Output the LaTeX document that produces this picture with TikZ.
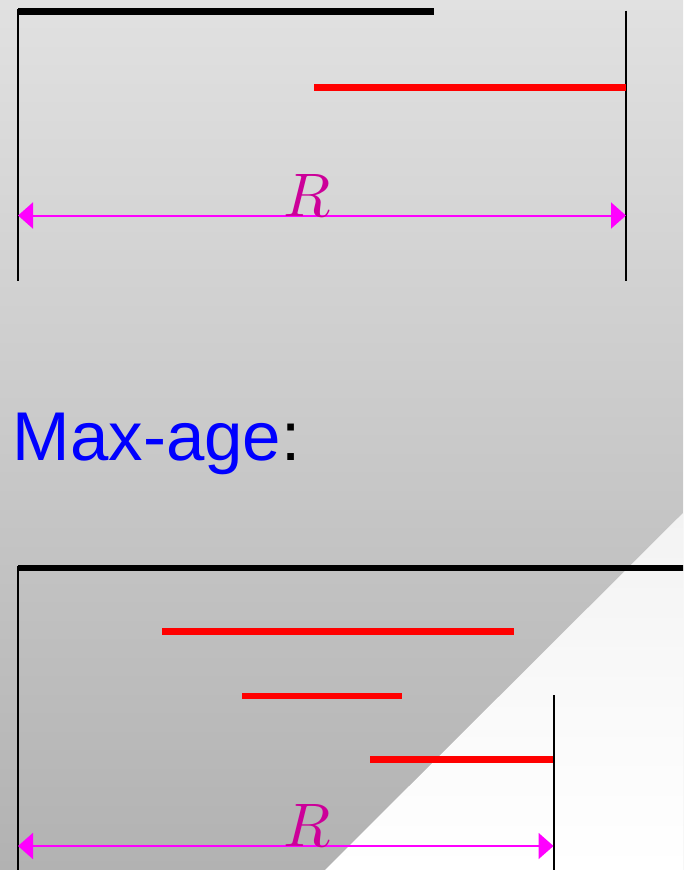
\documentclass[tikz,border=0pt]{standalone}
\usepackage{fontspec}
\newfontfamily\arialfont{Liberation Sans}
\usetikzlibrary{arrows.meta}
\definecolor{rlabel}{RGB}{204,0,153}
\definecolor{arrowmag}{RGB}{255,0,255}
\definecolor{bgtop}{RGB}{225,225,225}
\definecolor{bgbot}{RGB}{178,178,178}
\definecolor{tritop}{RGB}{243,243,243}
\definecolor{pureblue}{RGB}{0,0,255}
\definecolor{purered}{RGB}{255,0,0}
\tikzset{
  thickblack/.style={line width=6.5pt, black},
  thinblack/.style={line width=2pt, black},
  redbar/.style={line width=6.5pt, purered},
  rangearrow/.style={line width=2pt, arrowmag, {Triangle[length=15pt,width=26pt]}-{Triangle[length=15pt,width=26pt]}},
  rtext/.style={inner sep=0pt, anchor=base, text=rlabel, scale=6.15},
}
\begin{document}
\begin{tikzpicture}[x=1pt,y=-1pt]
\useasboundingbox (0,0) rectangle (683,870);
\clip (0,0) rectangle (683,870);
% background
\shade[top color=bgtop, bottom color=bgbot] (0,0) rectangle (683,870);
\shade[top color=tritop, bottom color=white] (683,513) -- (325,870) -- (683,870) -- cycle;

% ---- top diagram ----
\coordinate (a1) at (18,11.3);
\coordinate (a2) at (433.5,11.3);
\draw[thickblack] (a1) -- (a2);
\coordinate (l1t) at (18,9);
\coordinate (l1b) at (18,280.5);
\draw[thinblack] (l1t) -- (l1b);
\coordinate (r1t) at (626,10.5);
\coordinate (r1b) at (626,280.5);
\draw[thinblack] (r1t) -- (r1b);
\coordinate (red1a) at (314,87.7);
\coordinate (red1b) at (625.5,87.7);
\draw[redbar] (red1a) -- (red1b);
\coordinate (ar1l) at (18,215.5);
\coordinate (ar1r) at (626,215.5);
\draw[rangearrow] (ar1l) -- (ar1r);
\node[rtext] (R1) at (307,216) {$R$};

% ---- heading ----
\node[inner sep=0pt, anchor=base west, font=\arialfont\fontsize{69}{78}\selectfont] (maxage) at (12.5,460) {\textcolor{pureblue}{Max-age}:};

% ---- bottom diagram ----
\coordinate (b1) at (18,568);
\coordinate (b2) at (690,568);
\draw[thickblack] (b1) -- (b2);
\coordinate (l2t) at (18,566);
\coordinate (l2b) at (18,875);
\draw[thinblack] (l2t) -- (l2b);
\coordinate (r2t) at (553.5,695);
\coordinate (r2b) at (553.5,875);
\draw[thinblack] (r2t) -- (r2b);
\coordinate (red2a) at (162,631.7);
\coordinate (red2b) at (514,631.7);
\draw[redbar] (red2a) -- (red2b);
\coordinate (red3a) at (242,696);
\coordinate (red3b) at (402,696);
\draw[redbar] (red3a) -- (red3b);
\coordinate (red4a) at (370,759.4);
\coordinate (red4b) at (553,759.4);
\draw[redbar] (red4a) -- (red4b);
\coordinate (ar2l) at (18,846);
\coordinate (ar2r) at (553.5,846);
\draw[rangearrow] (ar2l) -- (ar2r);
\node[rtext] (R2) at (307,846.5) {$R$};
\end{tikzpicture}
\end{document}
